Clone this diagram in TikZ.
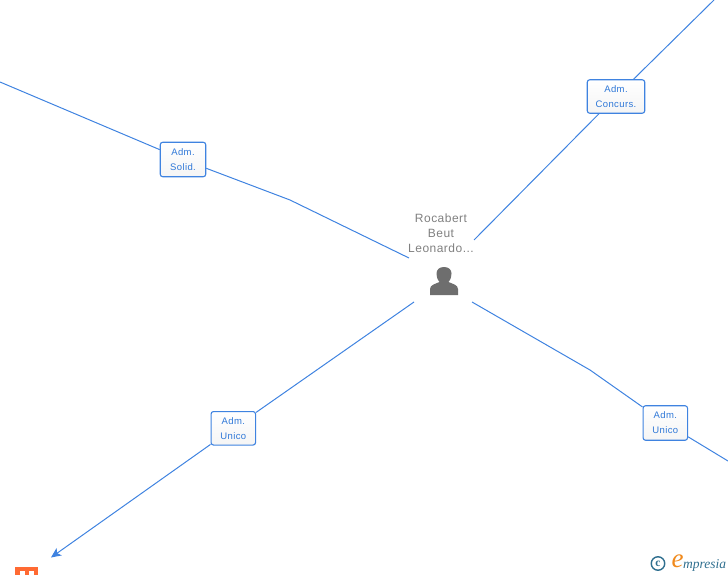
\documentclass[tikz,border=0pt]{standalone}
\usepackage{fontspec}
\setmainfont{Liberation Sans}[LetterSpace=4]
\newfontfamily\logofont{Liberation Serif}
\usetikzlibrary{arrows.meta}
\definecolor{linkblue}{HTML}{3F83E0}
\definecolor{labelblue}{HTML}{2F78D8}
\definecolor{persongrey}{HTML}{6E6E6E}
\definecolor{namegrey}{HTML}{808080}
\definecolor{brickred}{HTML}{FF6A33}
\definecolor{logoteal}{HTML}{2F6F8F}
\definecolor{logoorange}{HTML}{F08A1D}
\tikzset{
  x=1pt,y=-1pt,
  rolebox/.style={draw=linkblue,line width=1.1pt,rounded corners=2.5pt,top color=white,bottom color=white!96!black,
    text=labelblue,font=\fontsize{9.5}{14.8}\selectfont,align=center,inner sep=0pt},
  link/.style={draw=linkblue,line width=1pt},
  personname/.style={text=namegrey,font=\fontsize{12}{15.2}\selectfont,align=center,inner sep=0pt}
}
\begin{document}
\begin{tikzpicture}
\useasboundingbox (0,0) rectangle (728,575);
% role boxes
\node[rolebox,minimum width=45.5pt,minimum height=34.5pt] (solid) at (183,159.5) {Adm.\\Solid.};
\node[rolebox,minimum width=57.5pt,minimum height=33.5pt] (conc) at (616,96.5) {Adm.\\Concurs.};
\node[rolebox,minimum width=44.5pt,minimum height=33.5pt] (uleft) at (233.3,428.3) {Adm.\\Unico};
\node[rolebox,minimum width=44.5pt,minimum height=34.5pt] (uright) at (665.3,423) {Adm.\\Unico};
% free ends
\coordinate (solidout) at (0,82);
\coordinate (solidbend) at (290,200);
\coordinate (solidin) at (409,258);
\coordinate (concout) at (714,0);
\coordinate (concin) at (474,240);
\coordinate (uleftin) at (414,302);
\coordinate (uleftout) at (51,557.5);
\coordinate (urightin) at (472,302);
\coordinate (urightbend) at (590,370);
\coordinate (urightout) at (728,461);
% connectors
\draw[link] (solidout) -- (solid);
\draw[link] (solid) -- (solidbend) -- (solidin);
\draw[link] (concout) -- (conc);
\draw[link] (conc) -- (concin);
\draw[link] (uleftin) -- (uleft);
\draw[link,-{Stealth[length=10pt,width=9pt,inset=2.5pt]}] (uleft) -- (uleftout);
\draw[link] (urightin) -- (urightbend) -- (uright);
\draw[link] (uright) -- (urightout);
% person
\node[personname] (name) at (441,233) {Rocabert\\Beut\\Leonardo...};
\fill[persongrey] (430,295) -- (430,289) .. controls (430,285) and (435,284) .. (439.5,282)
  .. controls (437,279) and (436.5,276) .. (436.5,273.5)
  .. controls (436.5,269.5) and (439.5,267) .. (444,267)
  .. controls (448.5,267) and (451.5,269.5) .. (451.5,273.5)
  .. controls (451.5,276) and (451,279) .. (448.5,282)
  .. controls (453,284) and (458,285) .. (458,289) -- (458,295) -- cycle;
% company icon (clipped by the lower edge)
\begin{scope}
\clip (0,0) rectangle (728,575);
\fill[brickred] (15,567) rectangle (38,580);
\fill[white] (19.5,570.7) rectangle (24.5,574.6);
\fill[white] (29,570.7) rectangle (34,574.6);
\end{scope}
% logo
\node[draw=logoteal,line width=1.4pt,circle,minimum size=13.5pt,inner sep=0pt,text=logoteal,font=\logofont\fontsize{11.5}{11.5}\selectfont\bfseries] (copy) at (658,563.5) {c};
\node[inner sep=0pt,text=logoorange,font=\logofont\fontsize{27}{27}\selectfont\itshape] (logoe) at (677.5,561) {e};
\node[inner sep=0pt,anchor=base west,text=logoteal,font=\logofont\fontsize{13.5}{13.5}\selectfont\itshape] (logotext) at (683,568.5) {mpresia};
\end{tikzpicture}
\end{document}
